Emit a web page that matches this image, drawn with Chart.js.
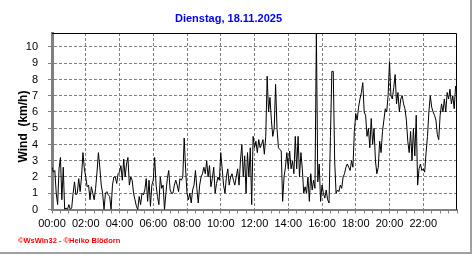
<!DOCTYPE html>
<html>
<head>
<meta charset="utf-8">
<script src="https://cdn.jsdelivr.net/npm/chart.js@4/dist/chart.umd.min.js"></script>
<style>
html,body{margin:0;padding:0;background:#fff;}
#c{display:block;}
</style>
</head>
<body>
<canvas id="c" width="472" height="255"></canvas>
<script>
// ---- data (5-minute wind values, km/h) ----
const windH00_03 = [
  2.6, 2.3, 2.4, 1.0, 0.3, 2.5, 3.2, 0.6, 2.6, 0.0, 0.1, 0.0,
  0.3, 0.0, 0.1, 1.0, 1.7, 0.9, 1.0, 1.9, 1.1, 2.0, 3.5, 2.5,
  2.0, 1.4, 1.5, 0.6, 1.4, 1.0, 0.6, 1.3, 2.3, 3.5, 2.6, 1.5,
  1.0, 0.0, 1.0, 1.1, 0.9, 0.8, 0.0, 1.5, 2.0, 2.0, 1.6, 2.2
];
const windH04_07 = [
  2.3, 2.7, 1.8, 3.1, 2.0, 2.8, 3.2, 1.5, 2.0, 1.8, 1.0, 0.6,
  0.2, 0.0, 0.8, 0.3, 1.0, 0.9, 1.2, 1.9, 0.5, 1.8, 0.2, 1.5,
  1.8, 3.2, 1.5, 0.8, 0.3, 2.0, 1.3, 1.5, 0.0, 1.0, 1.9, 2.4,
  1.2, 1.0, 1.0, 1.5, 1.8, 1.5, 1.1, 1.9, 1.8, 2.0, 4.4, 2.5
];
const windH08_11 = [
  1.0, 0.6, 1.0, 0.4, 1.2, 1.5, 2.4, 1.3, 0.4, 1.5, 2.0, 2.2,
  2.6, 2.2, 3.0, 2.0, 2.7, 1.4, 1.9, 2.6, 1.0, 1.6, 2.0, 1.8,
  3.5, 2.5, 1.5, 1.0, 2.0, 2.5, 1.5, 2.0, 2.2, 1.8, 1.5, 2.0,
  2.5, 1.5, 3.0, 4.0, 2.0, 3.3, 1.0, 3.5, 2.0, 3.8, 0.3, 4.5
];
const windH12_15 = [
  3.8, 4.2, 3.5, 4.3, 3.8, 4.0, 4.3, 3.4, 4.5, 8.2, 6.0, 6.9,
  5.5, 4.5, 5.0, 7.7, 5.0, 3.8, 3.7, 3.6, 0.5, 2.0, 2.6, 3.5,
  2.5, 3.6, 2.5, 3.0, 2.2, 4.5, 2.5, 4.5, 2.0, 3.5, 2.5, 1.0,
  1.4, 1.0, 2.0, 0.5, 2.2, 1.2, 1.8, 1.3, 10.86, 1.7, 2.8, 0.5
];
const windH16_19 = [
  1.5, 1.0, 0.7, 1.2, 0.6, 0.4, 4.5, 8.5, 8.5, 3.0, 1.0, 1.2,
  1.1, 1.5, 1.3, 2.0, 2.2, 2.6, 2.8, 2.6, 2.4, 3.0, 2.6, 4.8,
  5.9, 5.5, 6.3, 6.8, 7.2, 7.8, 6.0, 5.8, 4.5, 5.0, 3.8, 5.6,
  4.0, 5.0, 3.0, 2.2, 2.6, 4.2, 3.5, 4.8, 5.5, 6.2, 6.0, 7.0
];
const windH20_23 = [
  9.1, 7.0, 6.8, 7.5, 8.3, 6.5, 7.2, 6.0, 6.8, 7.0, 6.5, 6.2,
  5.5, 4.2, 3.5, 4.8, 3.0, 5.0, 3.3, 5.8, 1.5, 2.5, 2.8, 2.4,
  2.5, 2.3, 3.5, 4.5, 6.0, 7.0, 6.3, 6.0, 5.8, 5.5, 4.6, 4.3,
  5.8, 6.5, 6.0, 6.8, 6.0, 7.2, 6.8, 7.4, 6.5, 7.0, 6.2, 7.6
];
const xTickLabels = ['00:00','02:00','04:00','06:00','08:00','10:00','12:00','14:00','16:00','18:00','20:00','22:00'];
const yMax = 10.86;
const titleText = 'Dienstag, 18.11.2025';
const yTitleText = 'Wind  (km/h)';
const footerText = '\u00A9WsWin32 - \u00A9Heiko Bl\u00F6dorn';

const windValues = [].concat(windH00_03, windH04_07, windH08_11, windH12_15, windH16_19, windH20_23);
const points = windValues.map((v, i) => ({x: i * 5 / 60, y: v}));

const FONT = "'Liberation Sans', Arial, sans-serif";
const GRID = '#808080';

const framePlugin = {
  id: 'frame',
  afterDraw(chart) {
    const {ctx, chartArea: a} = chart;
    ctx.save();
    // top & right black frame
    ctx.strokeStyle = '#000';
    ctx.lineWidth = 1;
    ctx.beginPath();
    ctx.moveTo(a.left, a.top + 0.5);
    ctx.lineTo(a.right - 0.5, a.top + 0.5);
    ctx.lineTo(a.right - 0.5, a.bottom);
    ctx.stroke();
    // outer grey frame
    ctx.fillStyle = '#a0a0a0';
    ctx.fillRect(470, 0, 2, 254);
    ctx.fillRect(0, 252, 472, 2);
    // y-axis title
    ctx.fillStyle = '#000';
    ctx.font = 'bold 12px ' + FONT;
    ctx.textAlign = 'center';
    ctx.textBaseline = 'middle';
    ctx.translate(23.5, 126.5);
    ctx.rotate(-Math.PI / 2);
    ctx.fillText(yTitleText, 0, 0);
    ctx.restore();
    // footer
    ctx.save();
    ctx.fillStyle = '#ff0000';
    ctx.font = 'bold 7.5px ' + FONT;
    ctx.textAlign = 'left';
    ctx.textBaseline = 'alphabetic';
    ctx.fillText(footerText, 18, 243);
    ctx.restore();
  }
};

new Chart(document.getElementById('c'), {
  type: 'line',
  data: {
    datasets: [{
      data: points,
      borderColor: '#000',
      borderWidth: 1,
      pointRadius: 0,
      tension: 0,
      fill: false
    }]
  },
  options: {
    responsive: false,
    animation: false,
    devicePixelRatio: 1,
    layout: {padding: {left: 0, right: 15, top: 0, bottom: 0}},
    plugins: {
      legend: {display: false},
      tooltip: {enabled: false},
      title: {
        display: true,
        text: titleText,
        color: '#0000ff',
        font: {family: FONT, size: 11, weight: 'bold'},
        padding: {top: 12, bottom: 7.8}
      }
    },
    scales: {
      x: {
        type: 'linear',
        min: 0,
        max: 24,
        afterFit: (s) => { s.height = 45.5; },
        ticks: {
          stepSize: 0.5,
          autoSkip: false,
          maxRotation: 0,
          minRotation: 0,
          padding: 4,
          color: '#000',
          font: {family: FONT, size: 11},
          callback: (v) => (Number.isInteger(v / 2) && v < 24) ? xTickLabels[v / 2] : ''
        },
        grid: {
          color: (c) => {
            const v = c.tick ? c.tick.value : 0;
            return (v > 0 && v < 24 && Number.isInteger(v / 2)) ? GRID : 'rgba(0,0,0,0)';
          },
          tickColor: GRID,
          tickLength: 4,
          lineWidth: 1
        },
        border: {display: true, color: GRID, width: 2, dash: [3, 2]}
      },
      y: {
        min: 0,
        max: yMax,
        afterFit: (s) => { s.width = 52; },
        ticks: {
          stepSize: 1,
          includeBounds: false,
          padding: 10,
          color: '#000',
          font: {family: FONT, size: 11}
        },
        grid: {
          color: (c) => (c.tick && c.tick.value > 0) ? GRID : 'rgba(0,0,0,0)',
          tickColor: GRID,
          tickLength: 4,
          lineWidth: 1
        },
        border: {display: true, color: GRID, width: 3, dash: [3, 2]}
      }
    }
  },
  plugins: [framePlugin]
});
</script>
</body>
</html>
